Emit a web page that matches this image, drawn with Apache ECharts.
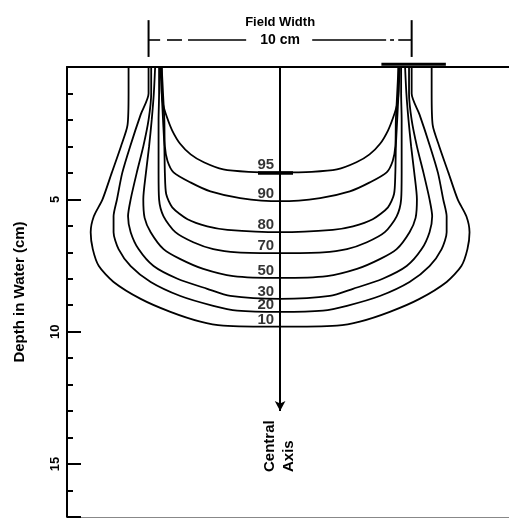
<!DOCTYPE html>
<html><head><meta charset="utf-8">
<script src="https://cdn.jsdelivr.net/npm/echarts@6/dist/echarts.min.js"></script>
<style>html,body{margin:0;padding:0;background:#fff}#c{width:509px;height:520px}</style>
</head><body><div id="c"></div>
<script>
// Isodose levels (%) and the depth (cm) where each crosses the central axis
const isodoseLevels = ['95', '90', '80', '70', '50', '30', '20', '10'];
const axisDepths = [3.98, 5.07, 6.24, 7.03, 7.97, 8.76, 9.25, 9.81];
// Left half of each isodose curve: [off-axis distance (cm), depth (cm)], surface -> central axis
const half95 = [[-4.5,0],[-4.5,0.9],[-4.45,1.4],[-4.3,1.9],[-4.1,2.4],[-3.8,2.9],[-3.4,3.3],[-2.9,3.6],[-2.16,3.87],[-1.2,3.96],[0,3.98]];
const half90 = [[-4.5,0],[-4.45,1.0],[-4.4,2.0],[-4.38,3.0],[-4.28,3.55],[-4.05,3.98],[-3.41,4.36],[-2.65,4.7],[-1.52,4.95],[0,5.07]];
const half80 = [[-4.55,0],[-4.5,1],[-4.45,2],[-4.4,3],[-4.38,4],[-4.33,4.8],[-4.1,5.3],[-3.52,5.75],[-2.77,6.02],[-2.0,6.15],[0,6.24]];
const half70 = [[-4.6,0],[-4.6,1],[-4.62,2],[-4.62,3],[-4.62,4],[-4.6,5.0],[-4.43,5.64],[-3.98,6.24],[-3.3,6.62],[-2.54,6.88],[-1.63,7.0],[0,7.03]];
const half50 = [[-4.75,0],[-4.8,1],[-4.88,2],[-4.98,3],[-5.1,4],[-5.2,5.0],[-5.15,5.7],[-4.92,6.24],[-4.43,6.88],[-3.79,7.26],[-2.92,7.63],[-1.78,7.9],[0,7.97]];
const half30 = [[-4.9,0],[-4.9,1],[-5.0,2],[-5.2,3],[-5.45,4],[-5.68,5.0],[-5.78,5.64],[-5.68,6.24],[-5.38,6.88],[-4.81,7.52],[-3.9,8.0],[-2.77,8.38],[-1.89,8.65],[0,8.76]];
const half20 = [[-5.0,0],[-5.0,1],[-5.3,1.8],[-5.7,3],[-6.0,4],[-6.2,5.0],[-6.33,5.64],[-6.33,6.24],[-6.14,6.88],[-5.68,7.52],[-4.92,8.12],[-3.79,8.65],[-2.54,9.02],[-1.63,9.2],[0,9.25]];
const half10 = [[-5.76,0],[-5.76,1.0],[-5.8,2.2],[-6.05,3.0],[-6.4,4.0],[-6.75,5.0],[-7.08,5.64],[-7.2,6.24],[-7.12,6.88],[-6.89,7.52],[-6.33,8.12],[-5.3,8.76],[-4.17,9.25],[-3.03,9.62],[-2.16,9.77],[0,9.81]];
const halves = [half95, half90, half80, half70, half50, half30, half20, half10];
const depthTickLabels = ['5', '10', '15'];
const fieldEdges = [-5, 5];        // field width 10 cm
const centralAxisEnd = 13;          // depth where central-axis arrow ends

const FONT = "'Liberation Sans', Arial, sans-serif";
const chart = echarts.init(document.getElementById('c'), null, {renderer: 'canvas'});

function mirror(half) {
  const right = half.slice(0, -1).reverse().map(p => [-p[0], p[1]]);
  return half.concat(right);
}

const series = halves.map((h, i) => ({
  name: isodoseLevels[i],
  type: 'line',
  data: mirror(h),
  smooth: 0.25,
  symbol: 'none',
  silent: true,
  lineStyle: {color: '#000', width: 1.8}
}));

series.push({
  type: 'line', data: [], silent: true,
  markLine: {
    silent: true, symbol: ['none', 'arrow'], symbolSize: [8, 10],
    label: {show: false},
    lineStyle: {color: '#000', width: 2, type: 'solid'},
    data: [[{coord: [0, 0]}, {coord: [0, centralAxisEnd]}]]
  }
});

series.push({
  type: 'scatter', silent: true, symbolSize: 0,
  data: axisDepths.map((d, i) => ({value: [0, d], name: isodoseLevels[i]})),
  label: {
    show: true, formatter: p => p.name, position: 'left', distance: 6, offset: [0, -7],
    color: '#000', fontFamily: FONT, fontWeight: 'bold', fontSize: 15
  }
});

chart.setOption({
  animation: false,
  backgroundColor: '#fff',
  grid: {left: 67, right: 0, top: 67, bottom: 2},
  xAxis: [{
    type: 'value', position: 'top', min: -8.1, max: 8.7,
    axisLine: {show: true, onZero: false, lineStyle: {color: '#000', width: 2}},
    axisTick: {show: false}, axisLabel: {show: false}, splitLine: {show: false}
  }, {
    type: 'value', position: 'bottom', min: -8.1, max: 8.7,
    axisLine: {show: true, onZero: false, lineStyle: {color: '#888', width: 1}},
    axisTick: {show: false}, axisLabel: {show: false}, splitLine: {show: false}
  }],
  yAxis: {
    type: 'value', inverse: true, min: 0, max: 17, interval: 5,
    name: 'Depth in Water (cm)', nameLocation: 'middle', nameGap: 40, nameRotate: 90,
    nameTextStyle: {color: '#000', fontFamily: FONT, fontWeight: 'bold', fontSize: 15},
    axisLine: {show: true, onZero: false, lineStyle: {color: '#000', width: 2}},
    axisTick: {show: true, inside: true, length: 14, lineStyle: {color: '#000', width: 2}},
    minorTick: {show: true, splitNumber: 5, length: 6, lineStyle: {color: '#000', width: 2}},
    axisLabel: {
      show: true, rotate: 90, margin: 5, color: '#000', fontFamily: FONT, fontWeight: 'bold', fontSize: 13,
      formatter: v => { const i = [5, 10, 15].indexOf(v); return i >= 0 ? depthTickLabels[i] : ''; }
    },
    splitLine: {show: false}
  },
  series: series
});

// Annotations positioned from data coordinates
const px = (x, d) => chart.convertToPixel({gridIndex: 0}, [x, d]);
const elems = [];
function seg(a, b, w) {
  const p = px(a[0], a[1]), q = px(b[0], b[1]);
  elems.push({type: 'line', silent: true, shape: {x1: p[0], y1: p[1], x2: q[0], y2: q[1]},
    style: {stroke: '#000', lineWidth: w || 2}});
}
function txt(x, d, s, size) {
  const p = px(x, d);
  elems.push({type: 'text', silent: true, x: p[0], y: p[1],
    style: {text: s, fill: '#000', font: 'bold ' + size + 'px ' + FONT, align: 'center', verticalAlign: 'middle'}});
}
const yArrow = -1.02;
fieldEdges.forEach(e => seg([e, -1.77], [e, -0.38], 2));
[[-5.02,-4.56],[-4.30,-3.73],[-3.50,-1.29],[1.22,4.03],[4.18,4.33],[4.49,4.98]].forEach(s => seg([s[0], yArrow], [s[1], yArrow], 1.6));
txt(0, -1.7, 'Field Width', 13);
txt(0, yArrow, '10 cm', 14);
// heavier marks seen in the original print
seg([3.85, -0.1], [6.3, -0.1], 3);
seg([-0.84, 4.0], [0.49, 4.0], 3.5);
// Central Axis (rotated, reading upward)
const cb = px(0, 15.3);
elems.push({type: 'text', silent: true, x: cb[0] - 10, y: cb[1], rotation: Math.PI / 2,
  style: {text: 'Central', fill: '#000', font: 'bold 15px ' + FONT, align: 'left', verticalAlign: 'middle'}});
elems.push({type: 'text', silent: true, x: cb[0] + 9, y: cb[1], rotation: Math.PI / 2,
  style: {text: 'Axis', fill: '#000', font: 'bold 15px ' + FONT, align: 'left', verticalAlign: 'middle'}});
chart.setOption({graphic: elems});
</script>
</body></html>
